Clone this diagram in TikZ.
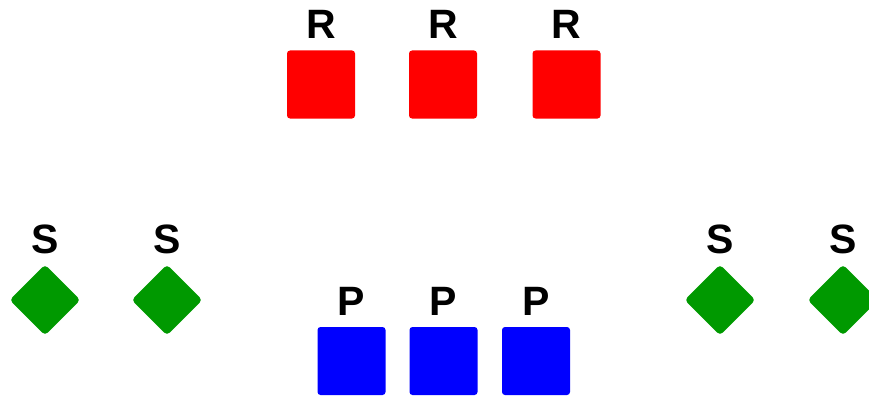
\documentclass[tikz,border=0pt]{standalone}
\usepackage{fontspec}
\setmainfont{Liberation Sans}
\usetikzlibrary{shapes.geometric}
\definecolor{rbox}{RGB}{255,0,0}
\definecolor{pbox}{RGB}{0,0,255}
\definecolor{sgreen}{RGB}{0,153,0}
\tikzset{
  sq/.style={rectangle, rounded corners=3pt, inner sep=0pt, minimum size=68pt},
  rsq/.style={sq, fill=rbox},
  psq/.style={sq, fill=pbox},
  dia/.style={diamond, rounded corners=4pt, inner sep=0pt, minimum width=71pt, minimum height=71pt, fill=sgreen},
  lbl/.style={anchor=base, inner sep=0pt, font=\fontsize{41}{48}\selectfont\bfseries}
}
\begin{document}
\begin{tikzpicture}[x=1pt,y=-1pt]
\useasboundingbox (0,0) rectangle (869,396);
% red squares
\node[rsq] (r1) at (321,84.5) {};
\node[rsq] (r2) at (443,84.5) {};
\node[rsq] (r3) at (566.5,84.5) {};
\node[lbl] (lr1) at (321,39) {R};
\node[lbl] (lr2) at (443,39) {R};
\node[lbl] (lr3) at (566.5,39) {R};
% blue squares
\node[psq] (p1) at (351.5,361) {};
\node[psq] (p2) at (443.5,361) {};
\node[psq] (p3) at (536,361) {};
\node[lbl] (lp1) at (351.5,315) {P};
\node[lbl] (lp2) at (443.5,315) {P};
\node[lbl] (lp3) at (536,315) {P};
% green diamonds
\node[dia] (s1) at (45,300) {};
\node[dia] (s2) at (167,300) {};
\node[dia] (s3) at (720,300) {};
\node[dia] (s4) at (843,300) {};
\node[lbl] (ls1) at (45,253.5) {S};
\node[lbl] (ls2) at (167,253.5) {S};
\node[lbl] (ls3) at (720,253.5) {S};
\node[lbl] (ls4) at (843,253.5) {S};
\end{tikzpicture}
\end{document}
